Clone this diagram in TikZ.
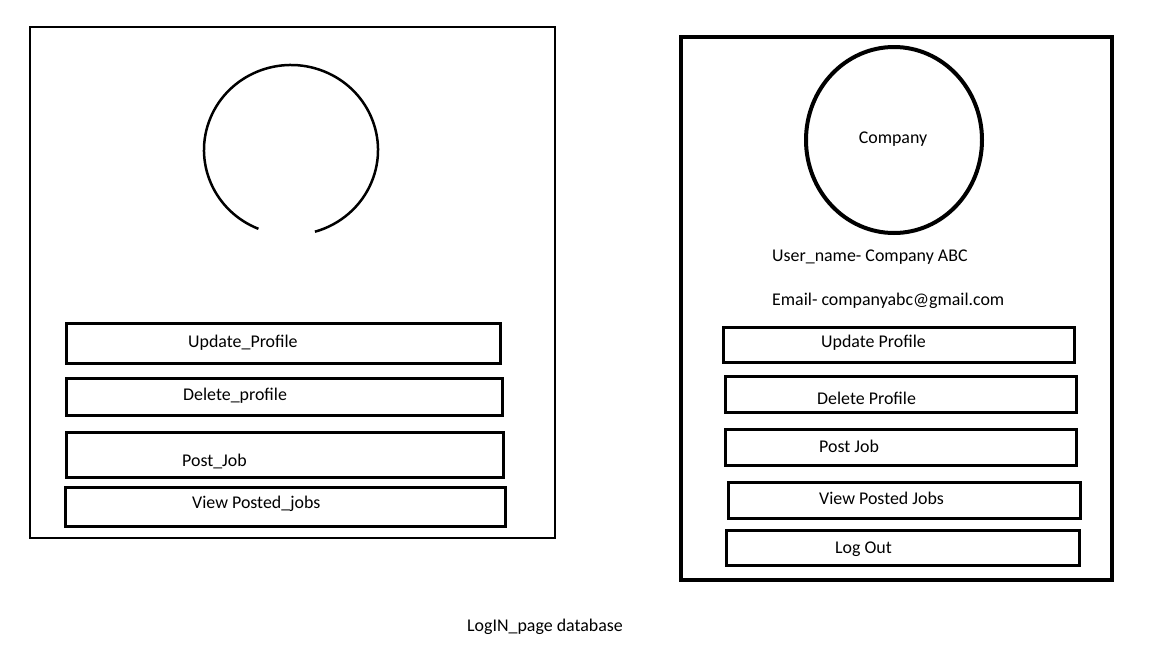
\documentclass[tikz,border=0pt]{standalone}
\usepackage{fontspec}
\setmainfont{Carlito}
\usetikzlibrary{positioning}
\begin{document}
\begin{tikzpicture}[x=1pt,y=-1pt,
    lbl/.style={anchor=west,inner sep=0pt,font=\fontsize{17.9}{20}\selectfont},
    btn/.style={draw,line width=3pt}]
            \useasboundingbox (0,0) rectangle (1152,648);
            % left page
            \draw[line width=2pt] (30,27) rectangle (555,538);
            \draw[line width=2.5pt] (291,150) ++({87*cos(112)},{85*sin(112)})
                  arc[start angle=112, end angle=434, x radius=87, y radius=85];
            \draw[btn] (66,323) rectangle (500,363);
            \node[lbl] (lupd) at (188,343) {Update\_Profile};
            \draw[btn] (66,378) rectangle (502,415);
            \node[lbl] (ldel) at (183,396) {Delete\_profile};
            \draw[btn] (66,432) rectangle (503,477);
            \node[lbl] (lpost) at (182,461) {Post\_Job};
            \draw[btn] (65,487) rectangle (505,526);
            \node[lbl] (lview) at (192,504) {View Posted\_jobs};
            % right page
            \draw[line width=4pt] (681,37) rectangle (1112,580);
            \draw[line width=4pt] (894,140) ellipse [x radius=88, y radius=93];
            \node[lbl, anchor=center] (company) at (893,139) {Company};
            \node[lbl] (username) at (772,257) {User\_name- Company ABC};
            \node[lbl] (email) at (772,301) {Email- companyabc@gmail.com};
            \draw[btn] (723,327) rectangle (1074,362);
            \node[lbl] (rupd) at (821,343) {Update Profile};
            \draw[btn] (725,376) rectangle (1076,412);
            \node[lbl] (rdel) at (817,398) {Delete Profile};
            \draw[btn] (725,429) rectangle (1076,465);
            \node[lbl] (rpost) at (819,446) {Post Job};
            \draw[btn] (728,482) rectangle (1080,518);
            \node[lbl] (rview) at (819,498) {View Posted Jobs};
            \draw[btn] (726,530) rectangle (1079,565);
            \node[lbl] (rout) at (835,549) {Log Out};
            % caption
            \node[lbl] (caption) at (467,627) {LogIN\_page database};
\end{tikzpicture}
\end{document}
